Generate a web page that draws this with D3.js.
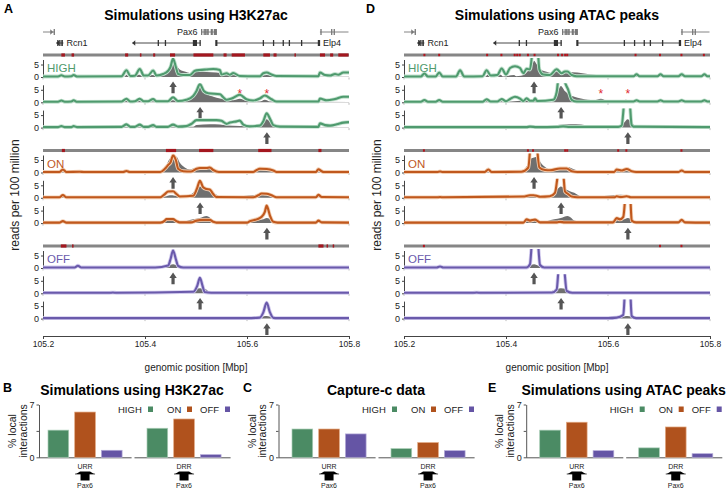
<!DOCTYPE html>
<html><head><meta charset="utf-8">
<script src="https://cdn.jsdelivr.net/npm/d3@7"></script>
<style>body{margin:0;background:#fff;} svg{display:block;font-family:"Liberation Sans",Arial,sans-serif;}</style>
</head><body><script>
// ---------------- DATA ----------------
const groups = ["HIGH", "ON", "OFF"];
const viewpoints = [105.455, 105.508, 105.639];
const xTicks = [105.2, 105.4, 105.6, 105.8];
const asteriskPos = [105.586, 105.639];

// gene models (Mbp)
const geneModels = [
  {row: 1, name: "", start: 105.200, end: 105.223, arrow: "right", exons: [[105.222, 105.223]]},
  {row: 1, name: "Pax6", start: 105.511, end: 105.541, arrow: "", exons: [[105.511, 105.512], [105.516, 105.517], [105.519, 105.521], [105.523, 105.525], [105.530, 105.533], [105.536, 105.541]]},
  {row: 1, name: "", start: 105.743, end: 105.799, arrow: "", exons: [[105.745, 105.746], [105.766, 105.767], [105.771, 105.772]]},
  {row: 2, name: "Rcn1", start: 105.226, end: 105.240, arrow: "left", exons: [[105.229, 105.230], [105.233, 105.234], [105.237, 105.239]]},
  {row: 2, name: "", start: 105.375, end: 105.509, arrow: "left", exons: [[105.426, 105.427], [105.440, 105.441], [105.495, 105.502], [105.508, 105.509]]},
  {row: 2, name: "Elp4", start: 105.539, end: 105.743, arrow: "", exons: [[105.539, 105.542], [105.632, 105.633], [105.652, 105.653], [105.671, 105.672], [105.683, 105.684], [105.707, 105.708], [105.740, 105.741], [105.742, 105.743]]}
];

// enhancer tracks (H3K27ac segments, ATAC peak points)
const enhA_HIGH = [[105.236,105.243],[105.256,105.261],[105.361,105.367],[105.390,105.393],[105.416,105.420],[105.449,105.459],[105.495,105.534],[105.554,105.560],[105.570,105.596],[105.632,105.645],[105.652,105.658],[105.693,105.695],[105.743,105.753],[105.763,105.769],[105.779,105.799]];
const enhA_ON = [[105.237,105.243],[105.441,105.461],[105.506,105.534],[105.622,105.648],[105.740,105.746]];
const enhA_OFF = [[105.235,105.246],[105.257,105.259],[105.740,105.750],[105.756,105.758],[105.768,105.770]];
const atac_HIGH = [105.240,105.269,105.363,105.391,105.417,105.422,105.427,105.443,105.456,105.502,105.510,105.516,105.520,105.654,105.702,105.744,105.788];
const atac_ON = [105.239,105.443,105.453,105.516,105.520,105.620,105.636,105.744];
const atac_OFF = [105.239,105.702,105.744];

// observed Capture-C (grey)
const obsHIGH1 = [[105.2,0.1],[105.233,0.1],[105.236,0.35],[105.240,0.1],[105.36,0.15],[105.3636,0.9],[105.368,0.15],[105.3898,0.9],[105.394,0.2],[105.416,0.8],[105.42,0.3],[105.429,0.5],[105.439,1.5],[105.4454,3],[105.452,5],[105.455,6.5],[105.4605,5],[105.468,3],[105.481,2],[105.491,1.5],[105.501,2.3],[105.5207,2.0],[105.540,1.8],[105.56,1.2],[105.586,0.6],[105.612,0.3],[105.632,0.6],[105.6385,0.8],[105.658,0.2],[105.8,0.1]];
const obsHIGH2 = [[105.2,0.1],[105.236,0.3],[105.24,0.1],[105.3636,0.5],[105.37,0.1],[105.39,0.5],[105.395,0.1],[105.416,0.4],[105.455,0.8],[105.47,0.4],[105.488,1.0],[105.4945,2.0],[105.501,4.0],[105.5076,6.5],[105.5154,4.5],[105.524,3.0],[105.534,2.2],[105.547,1.5],[105.573,0.8],[105.586,1.4],[105.599,0.5],[105.625,0.3],[105.635,1.0],[105.645,0.3],[105.8,0.1]];
const obsHIGH3 = [[105.2,0.1],[105.4945,0.3],[105.501,1.0],[105.527,1.3],[105.547,1.2],[105.56,0.8],[105.586,0.6],[105.625,0.9],[105.632,2.0],[105.6385,3.3],[105.648,1.5],[105.658,0.4],[105.67,0.1],[105.8,0.1]];
const obsON1 = [[105.2,0.1],[105.236,0.5],[105.242,0.1],[105.3636,0.3],[105.37,0.1],[105.43,0.3],[105.442,3],[105.4487,5.5],[105.455,6.0],[105.4618,6.3],[105.468,4.0],[105.478,2.0],[105.488,1.2],[105.501,2.0],[105.5207,2.2],[105.534,1.2],[105.547,0.5],[105.5665,0.5],[105.58,0.3],[105.625,1.2],[105.6385,1.3],[105.6516,0.5],[105.66,0.1],[105.74,0.4],[105.745,0.1],[105.8,0.1]];
const obsON2 = [[105.2,0.1],[105.236,0.5],[105.242,0.1],[105.44,0.5],[105.4487,1.0],[105.468,0.7],[105.491,1.5],[105.501,3.5],[105.5076,4.5],[105.514,3.8],[105.524,2.7],[105.5338,2.0],[105.547,0.5],[105.56,0.2],[105.625,1.2],[105.6385,1.0],[105.65,0.2],[105.8,0.1]];
const obsON3 = [[105.2,0.1],[105.236,0.4],[105.242,0.1],[105.435,0.3],[105.442,1.2],[105.455,1.0],[105.468,0.3],[105.4945,1.5],[105.5076,2.0],[105.5207,2.8],[105.527,2.2],[105.5338,1.0],[105.55,0.5],[105.573,0.8],[105.599,0.5],[105.612,1.0],[105.632,1.5],[105.6385,2.0],[105.645,1.5],[105.6516,0.3],[105.66,0.1],[105.8,0.1]];
const obsOFF1 = [[105.2,0.1],[105.269,0.3],[105.275,0.1],[105.42,0.2],[105.429,0.6],[105.4454,1.0],[105.455,1.5],[105.465,0.8],[105.48,0.3],[105.508,0.5],[105.5207,0.4],[105.535,0.1],[105.8,0.1]];
const obsOFF2 = [[105.2,0.1],[105.33,0.1],[105.337,0.5],[105.344,0.1],[105.45,0.1],[105.455,0.5],[105.46,0.1],[105.48,0.3],[105.491,1.0],[105.501,1.8],[105.5076,2.0],[105.517,1.8],[105.527,0.5],[105.54,0.1],[105.8,0.1]];
const obsOFF3 = [[105.2,0.1],[105.599,0.1],[105.612,0.4],[105.625,0.6],[105.6385,1.0],[105.6516,0.3],[105.66,0.1],[105.8,0.1]];

// simulations using H3K27ac
const simA_HIGH1 = [[105.2,0.2],[105.2295,0.2],[105.236,0.7],[105.2425,0.2],[105.2556,0.3],[105.260,0.8],[105.2668,0.2],[105.354,0.3],[105.3636,2.7],[105.3715,0.4],[105.38,0.5],[105.3898,3.2],[105.3976,0.6],[105.406,0.6],[105.416,2.6],[105.4225,0.6],[105.4356,1.2],[105.4454,2.5],[105.450,4],[105.455,7.4],[105.4605,4],[105.465,1.2],[105.475,0.8],[105.488,0.8],[105.498,2.5],[105.5076,2.8],[105.5207,3.0],[105.5338,3.2],[105.547,2.8],[105.550,1.0],[105.56,1.5],[105.5665,0.9],[105.573,1.6],[105.586,0.4],[105.625,0.3],[105.632,1.5],[105.6385,1.8],[105.648,1.0],[105.658,0.4],[105.740,0.3],[105.743,1.8],[105.753,0.8],[105.763,0.6],[105.7726,1.2],[105.779,0.9],[105.789,1.8],[105.8,1.8]];
const simA_HIGH2 = [[105.2,0.2],[105.2295,0.2],[105.236,0.7],[105.2425,0.2],[105.2556,0.3],[105.260,0.8],[105.2668,0.2],[105.354,0.3],[105.3636,1.4],[105.3715,0.3],[105.38,0.4],[105.3898,1.4],[105.3976,0.4],[105.406,0.4],[105.416,1.3],[105.4225,0.4],[105.445,0.4],[105.455,2.0],[105.465,0.5],[105.481,1.0],[105.4945,2.5],[105.501,4.5],[105.5076,7.3],[105.5154,4.5],[105.524,3.6],[105.547,3.2],[105.5534,2.0],[105.560,1.0],[105.5698,1.5],[105.586,3.0],[105.599,1.2],[105.612,0.7],[105.625,1.5],[105.635,2.7],[105.648,1.2],[105.658,0.3],[105.740,0.3],[105.743,1.5],[105.7563,0.8],[105.7726,1.3],[105.789,2.2],[105.8,2.2]];
const simA_HIGH3 = [[105.2,0.2],[105.2295,0.2],[105.236,0.6],[105.2425,0.2],[105.2556,0.2],[105.260,0.6],[105.2668,0.2],[105.354,0.3],[105.3636,1.3],[105.3715,0.3],[105.38,0.3],[105.3898,1.2],[105.3976,0.3],[105.406,0.3],[105.416,1.0],[105.4225,0.3],[105.445,0.3],[105.455,1.2],[105.465,0.4],[105.481,0.6],[105.491,1.5],[105.501,3.0],[105.5207,3.0],[105.540,3.0],[105.550,2.7],[105.560,1.5],[105.5665,2.0],[105.5796,2.5],[105.586,2.8],[105.5927,1.2],[105.605,0.5],[105.625,0.8],[105.632,2.5],[105.6385,5.7],[105.6463,3],[105.6516,1],[105.6647,0.4],[105.740,0.3],[105.743,1.7],[105.753,1.0],[105.763,0.8],[105.776,1.3],[105.789,2.0],[105.8,2.2]];
const simA_ON1 = [[105.2,0.2],[105.232,0.2],[105.239,1.2],[105.246,0.2],[105.272,0.3],[105.28,0.2],[105.357,0.2],[105.3636,0.6],[105.37,0.2],[105.43,0.2],[105.439,1.5],[105.4454,3.0],[105.450,4.0],[105.455,6.8],[105.4605,5],[105.465,1.5],[105.475,0.5],[105.49,0.4],[105.501,1.5],[105.5076,1.8],[105.5207,1.8],[105.527,2.0],[105.5338,1.0],[105.545,0.2],[105.612,0.2],[105.619,1.0],[105.625,1.5],[105.6385,1.4],[105.6516,0.8],[105.658,0.2],[105.735,0.2],[105.740,1.3],[105.7465,0.5],[105.75,0.2],[105.8,0.2]];
const simA_ON2 = [[105.2,0.2],[105.232,0.2],[105.239,1.1],[105.246,0.2],[105.43,0.2],[105.439,1.5],[105.4454,2.5],[105.455,2.6],[105.4618,1.5],[105.468,0.5],[105.4945,0.8],[105.5024,4],[105.5076,6.8],[105.514,4.2],[105.5207,3.5],[105.527,3.3],[105.5338,1.5],[105.540,0.3],[105.612,0.2],[105.622,1.0],[105.6287,1.7],[105.6385,1.6],[105.648,1.0],[105.658,0.2],[105.735,0.2],[105.740,1.2],[105.7465,0.3],[105.8,0.2]];
const simA_ON3 = [[105.2,0.2],[105.232,0.2],[105.239,0.8],[105.246,0.2],[105.43,0.2],[105.439,1.0],[105.442,1.6],[105.455,1.6],[105.4618,0.8],[105.468,0.3],[105.49,0.3],[105.501,1.0],[105.514,1.3],[105.527,1.3],[105.5338,0.5],[105.54,0.2],[105.6,0.2],[105.6058,0.8],[105.619,1.5],[105.6287,2.5],[105.635,4.5],[105.6385,7.0],[105.645,3],[105.6516,0.5],[105.66,0.2],[105.735,0.2],[105.740,1.0],[105.7465,0.3],[105.8,0.2]];
const simA_OFF1 = [[105.2,0.2],[105.262,0.2],[105.2685,0.9],[105.275,0.2],[105.42,0.2],[105.4454,1.0],[105.450,3.5],[105.455,7.0],[105.4605,3.5],[105.465,0.8],[105.475,0.2],[105.8,0.2]];
const simA_OFF2 = [[105.2,0.2],[105.33,0.2],[105.337,0.3],[105.344,0.2],[105.4945,0.6],[105.5024,3.0],[105.5076,6.2],[105.5128,3.0],[105.517,0.5],[105.53,0.2],[105.8,0.2]];
const simA_OFF3 = [[105.2,0.2],[105.599,0.2],[105.625,0.4],[105.632,2.5],[105.6385,6.4],[105.645,2.5],[105.6516,0.3],[105.66,0.2],[105.8,0.2]];

// simulations using ATAC peaks
const simD_HIGH1 = [[105.2,0.2],[105.233,0.2],[105.240,1.4],[105.247,0.2],[105.262,0.2],[105.269,1.8],[105.276,0.2],[105.302,0.2],[105.310,2.7],[105.318,0.2],[105.354,0.3],[105.362,2.7],[105.37,0.6],[105.383,0.8],[105.3915,3.4],[105.40,1.0],[105.408,3.6],[105.4176,4.3],[105.4275,3.6],[105.434,1.5],[105.4405,3.3],[105.447,3.0],[105.4536,12],[105.4614,12],[105.4654,3],[105.473,1.0],[105.486,0.8],[105.4993,3.1],[105.509,1.5],[105.5157,2.2],[105.5203,2.2],[105.5288,0.8],[105.5386,0.3],[105.65,0.3],[105.656,1.1],[105.662,0.3],[105.697,0.3],[105.703,1.1],[105.709,0.3],[105.738,0.3],[105.7444,1.1],[105.751,0.3],[105.783,0.3],[105.789,1.1],[105.795,0.3],[105.8,0.3]];
const simD_HIGH2 = [[105.2,0.2],[105.233,0.2],[105.240,0.9],[105.247,0.2],[105.262,0.2],[105.269,0.9],[105.276,0.2],[105.354,0.2],[105.362,1.2],[105.37,0.3],[105.383,0.3],[105.3915,1.3],[105.40,0.4],[105.408,1.3],[105.4176,2.2],[105.4275,1.5],[105.434,0.5],[105.4405,1.6],[105.447,0.6],[105.4536,0.6],[105.457,1.6],[105.4614,0.5],[105.4928,1.0],[105.4993,4],[105.5046,12],[105.511,12],[105.5157,8],[105.522,5],[105.5288,1],[105.5386,0.3],[105.65,0.3],[105.656,0.8],[105.662,0.3],[105.697,0.3],[105.703,0.8],[105.709,0.3],[105.738,0.3],[105.7444,0.8],[105.751,0.3],[105.783,0.3],[105.789,0.8],[105.795,0.3],[105.8,0.3]];
const simD_HIGH3 = [[105.2,0.2],[105.44,0.2],[105.447,0.4],[105.46,0.2],[105.5,0.3],[105.512,0.5],[105.525,0.3],[105.62,0.3],[105.6268,0.8],[105.6333,12],[105.6414,12],[105.6464,1],[105.6497,0.4],[105.8,0.2]];
const simD_ON1 = [[105.2,0.2],[105.265,0.2],[105.2706,0.4],[105.276,0.2],[105.358,0.2],[105.3654,1.2],[105.372,0.2],[105.43,0.3],[105.4438,2],[105.449,12],[105.459,12],[105.4654,2],[105.4765,1.0],[105.486,0.9],[105.506,1.6],[105.519,1.6],[105.5288,0.5],[105.54,0.2],[105.612,0.2],[105.617,1.2],[105.6268,0.8],[105.6366,1.4],[105.6464,0.5],[105.655,0.2],[105.738,0.2],[105.7444,0.8],[105.751,0.2],[105.8,0.2]];
const simD_ON2 = [[105.2,0.2],[105.265,0.2],[105.2706,0.3],[105.276,0.2],[105.434,0.5],[105.447,1.0],[105.4536,1.0],[105.46,0.8],[105.4667,0.4],[105.486,0.6],[105.496,2],[105.5046,12],[105.511,12],[105.5157,2.5],[105.522,1.5],[105.5288,0.5],[105.54,0.2],[105.612,0.2],[105.617,0.6],[105.625,0.3],[105.6366,0.6],[105.645,0.2],[105.8,0.2]];
const simD_ON3 = [[105.2,0.2],[105.434,0.2],[105.4405,1.5],[105.447,1.0],[105.457,1.4],[105.4667,0.3],[105.50,0.3],[105.506,0.5],[105.515,0.3],[105.61,0.3],[105.617,2.0],[105.6235,1.5],[105.630,2.5],[105.6353,12],[105.643,12],[105.6464,1],[105.655,0.3],[105.738,0.3],[105.7444,1.3],[105.751,0.3],[105.8,0.2]];
const simD_OFF1 = [[105.2,0.2],[105.264,0.2],[105.2706,0.6],[105.277,0.2],[105.44,0.2],[105.447,1.5],[105.452,12],[105.4614,12],[105.4667,1.2],[105.475,0.2],[105.8,0.2]];
const simD_OFF2 = [[105.2,0.2],[105.335,0.2],[105.3425,0.3],[105.35,0.2],[105.49,0.3],[105.4993,1.5],[105.5046,12],[105.5124,12],[105.519,1],[105.53,0.2],[105.8,0.2]];
const simD_OFF3 = [[105.2,0.2],[105.6,0.2],[105.617,0.4],[105.630,1.5],[105.634,12],[105.643,12],[105.6464,1],[105.655,0.2],[105.8,0.2]];

// bar charts: % local interactions (HIGH, ON, OFF)
const regions = ["URR", "DRR"];
const barsH3K27ac_URR = [3.6, 6.0, 0.93];
const barsH3K27ac_DRR = [3.85, 5.08, 0.35];
const barsCapture_URR = [3.75, 3.75, 3.1];
const barsCapture_DRR = [1.15, 1.95, 0.88];
const barsATAC_URR = [3.6, 4.65, 0.88];
const barsATAC_DRR = [1.25, 4.02, 0.48];
const barYTicks = [0, 3.5, 7];

// ---------------- DRAWING ----------------
const W = 726, H = 490;
const svg = d3.select("body").append("svg").attr("width", W).attr("height", H);
const COL = {HIGH: "#4f9a6e", ON: "#c0581d", OFF: "#6a5aab"};
const HALO = {HIGH: "#c3e2cf", ON: "#f3cfb3", OFF: "#d2cbee"};
const BAR = {HIGH: "#4b8b64", ON: "#b0521d", OFF: "#6555a5"};
const BARSTROKE = {HIGH: "#a9cdb6", ON: "#e2a983", OFF: "#b4abd8"};
const defs = svg.append("defs");
let clipId = 0;

function baseY(gi, t) { return 77 + gi * 95.5 + t * 25.3; }

function trackPanel(cfg) {
  const x = d3.scaleLinear().domain([105.2, 105.8]).range([cfg.x0, cfg.x1]);
  const g = svg.append("g");
  g.append("text").attr("x", cfg.lx).attr("y", 13).attr("font-weight", "bold").attr("font-size", 12.5).text(cfg.label);
  g.append("text").attr("x", cfg.tx).attr("y", 20).attr("text-anchor", "middle").attr("font-weight", "bold").attr("font-size", 14).text(cfg.title);

  // genes
  geneModels.forEach(gm => {
    const yy = gm.row === 1 ? 32 : 43;
    const col = gm.row === 1 ? "#777" : "#333";
    g.append("line").attr("x1", x(gm.start)).attr("x2", x(gm.end)).attr("y1", yy).attr("y2", yy).attr("stroke", col).attr("stroke-width", 0.9);
    gm.exons.forEach(e => {
      g.append("rect").attr("x", x(e[0]) - 0.6).attr("width", Math.max(1.3, x(e[1]) - x(e[0]) + 0.6)).attr("y", yy - 3).attr("height", 6).attr("fill", col);
    });
    if (gm.arrow === "left") {
      const ax = x(gm.start);
      g.append("path").attr("d", `M${ax + 3},${yy - 2.8}L${ax},${yy}L${ax + 3},${yy + 2.8}Z`).attr("fill", col);
    } else if (gm.arrow === "right") {
      const ax = x(gm.end) - 1.5;
      g.append("path").attr("d", `M${ax - 3},${yy - 2.8}L${ax},${yy}L${ax - 3},${yy + 2.8}Z`).attr("fill", col);
    }
    if (gm.name === "Pax6") {
      g.append("text").attr("x", x(gm.start) - 4).attr("y", yy + 3).attr("text-anchor", "end").attr("font-size", 9).attr("fill", "#222").text(gm.name);
    } else if (gm.name) {
      g.append("text").attr("x", x(gm.end) + 3).attr("y", yy + 3.2).attr("font-size", 9).attr("fill", "#222").text(gm.name);
    }
  });

  const area = y => d3.area().x(d => x(d[0])).y0(y(0)).y1(d => y(d[1])).curve(d3.curveMonotoneX);
  const line = y => d3.line().x(d => x(d[0])).y(d => y(d[1])).curve(d3.curveMonotoneX);

  groups.forEach((grp, gi) => {
    const ye = baseY(gi, 0) - 22;
    g.append("line").attr("x1", cfg.x0).attr("x2", cfg.x1).attr("y1", ye).attr("y2", ye).attr("stroke", "#868686").attr("stroke-width", 2.8);
    if (cfg.enhType === "seg") {
      cfg.enh[gi].forEach(s => g.append("rect").attr("x", x(s[0])).attr("width", Math.max(1.5, x(s[1]) - x(s[0]))).attr("y", ye - 1.6).attr("height", 3.2).attr("fill", "#a3171f"));
    } else {
      cfg.enh[gi].forEach(p => g.append("rect").attr("x", x(p) - 1).attr("width", 2).attr("y", ye - 1.2).attr("height", 2.4).attr("fill", "#b3151e"));
    }
    for (let t = 0; t < 3; t++) {
      const y0 = baseY(gi, t);
      const y = d3.scaleLinear().domain([-0.2, 7]).range([y0 + 0.5, y0 - 17.5]);
      const id = "clip" + (clipId++);
      defs.append("clipPath").attr("id", id).append("rect").attr("x", cfg.x0).attr("width", cfg.x1 - cfg.x0 + 3).attr("y", y(7.6)).attr("height", y(-1.5) - y(7.6));
      // axis
      const ax = g.append("g").attr("transform", `translate(${cfg.x0},0)`).call(d3.axisLeft(y).tickValues([0, 5]).tickSize(2).tickSizeOuter(0).tickPadding(2));
      ax.select(".domain").attr("stroke", "#444");
      ax.selectAll(".tick line").attr("stroke", "#444");
      ax.selectAll("text").attr("font-size", 9).attr("fill", "#222").attr("font-family", "Liberation Sans, Arial, sans-serif");
      // small x ticks
      xTicks.forEach(v => g.append("line").attr("x1", x(v)).attr("x2", x(v)).attr("y1", y0 + 0.5).attr("y2", y0 + 2.5).attr("stroke", "#aaa").attr("stroke-width", 0.8));
      const obs = cfg.obs[gi][t], sim = cfg.sims[gi][t];
      const cg = g.append("g").attr("clip-path", `url(#${id})`);
      cg.append("path").attr("d", area(y)(obs)).attr("fill", "#6f6f6f");
      cg.append("path").attr("d", line(y)(sim)).attr("fill", "none").attr("stroke", HALO[grp]).attr("stroke-width", 3.8).attr("stroke-linejoin", "round");
      cg.append("path").attr("d", line(y)(sim)).attr("fill", "none").attr("stroke", COL[grp]).attr("stroke-width", 2.1).attr("stroke-linejoin", "round");
      // viewpoint arrow
      const vx = x(viewpoints[t]);
      g.append("path").attr("d", `M${vx},${y0 + 4.6}L${vx + 3.7},${y0 + 10}L${vx + 1.6},${y0 + 10}L${vx + 1.6},${y0 + 16.3}L${vx - 1.6},${y0 + 16.3}L${vx - 1.6},${y0 + 10}L${vx - 3.7},${y0 + 10}Z`).attr("fill", "#555");
      if (t === 0) {
        g.append("text").attr("x", cfg.x0 + 4).attr("y", y0 - 5).attr("font-size", 11.5).attr("fill", COL[grp]).text(grp);
      }
      if (gi === 0 && t === 1) {
        asteriskPos.forEach(p => g.append("text").attr("x", x(p)).attr("y", y0 - 4.5).attr("text-anchor", "middle").attr("font-size", 12).attr("fill", "#e0282e").text("*"));
      }
    }
  });
  // bottom axis
  const bx = g.append("g").attr("transform", "translate(0,336)").call(d3.axisBottom(x).tickValues(xTicks).tickFormat(d3.format(".1f")).tickSize(3).tickSizeOuter(0).tickPadding(2));
  bx.select(".domain").attr("stroke", "#444");
  bx.selectAll(".tick line").attr("stroke", "#444");
  bx.selectAll("text").attr("font-size", 8.5).attr("fill", "#222").attr("font-family", "Liberation Sans, Arial, sans-serif");
  g.append("text").attr("x", (cfg.x0 + cfg.x1) / 2).attr("y", 371).attr("text-anchor", "middle").attr("font-size", 10).attr("fill", "#222").text("genomic position [Mbp]");
  g.append("text").attr("transform", `translate(${cfg.ylx},195) rotate(-90)`).attr("text-anchor", "middle").attr("font-size", 12).attr("fill", "#222").text("reads per 100 million");
}

trackPanel({x0: 43, x1: 349, lx: 4, tx: 196, ylx: 19, label: "A", title: "Simulations using H3K27ac",
  enhType: "seg", enh: [enhA_HIGH, enhA_ON, enhA_OFF],
  obs: [[obsHIGH1, obsHIGH2, obsHIGH3], [obsON1, obsON2, obsON3], [obsOFF1, obsOFF2, obsOFF3]],
  sims: [[simA_HIGH1, simA_HIGH2, simA_HIGH3], [simA_ON1, simA_ON2, simA_ON3], [simA_OFF1, simA_OFF2, simA_OFF3]]});
trackPanel({x0: 404, x1: 710, lx: 366, tx: 557, ylx: 381, label: "D", title: "Simulations using ATAC peaks",
  enhType: "pt", enh: [atac_HIGH, atac_ON, atac_OFF],
  obs: [[obsHIGH1, obsHIGH2, obsHIGH3], [obsON1, obsON2, obsON3], [obsOFF1, obsOFF2, obsOFF3]],
  sims: [[simD_HIGH1, simD_HIGH2, simD_HIGH3], [simD_ON1, simD_ON2, simD_ON3], [simD_OFF1, simD_OFF2, simD_OFF3]]});

function barPanel(cfg) {
  const bx0 = cfg.bx0;
  const g = svg.append("g");
  const x0 = d3.scaleBand().domain(regions).range([bx0, bx0 + 173.1]).paddingInner(0.2515).paddingOuter(0);
  const x1 = d3.scaleBand().domain(groups).range([0, x0.bandwidth()]).paddingInner(0.2247).paddingOuter(0);
  const y = d3.scaleLinear().domain([0, 7]).range([457.3, 404.5]);
  const yaxX = bx0 - cfg.axOff;
  g.append("text").attr("x", cfg.lx).attr("y", 392).attr("font-weight", "bold").attr("font-size", 12.5).text(cfg.label);
  g.append("text").attr("x", bx0 + 84).attr("y", 395).attr("text-anchor", "middle").attr("font-weight", "bold").attr("font-size", 14).text(cfg.title);
  const ax = g.append("g").attr("transform", `translate(${yaxX},0)`).call(d3.axisLeft(y).tickValues(barYTicks).tickFormat(d => d === 3.5 ? "" : d).tickSize(2.5).tickSizeOuter(0).tickPadding(2));
  ax.select(".domain").attr("stroke", "#555");
  ax.selectAll(".tick line").attr("stroke", "#555");
  ax.selectAll("text").attr("font-size", 9).attr("fill", "#222").attr("font-family", "Liberation Sans, Arial, sans-serif");
  const yt = g.append("text").attr("transform", `translate(${yaxX - 23},431) rotate(-90)`).attr("text-anchor", "middle").attr("font-size", 10.5).attr("fill", "#222");
  yt.append("tspan").attr("x", 0).attr("dy", 0).text("% local");
  yt.append("tspan").attr("x", 0).attr("dy", 10.5).text("interactions");
  const vals = {URR: cfg.urr, DRR: cfg.drr};
  regions.forEach((r, ri) => {
    const left = ri === 0 ? yaxX : x0(r) - 12.5;
    g.append("line").attr("x1", left).attr("x2", x0(r) + x0.bandwidth() + 9.5).attr("y1", 457.8).attr("y2", 457.8).attr("stroke", "#555").attr("stroke-width", 1);
    groups.forEach((grp, i) => {
      const v = vals[r][i];
      g.append("rect").attr("x", x0(r) + x1(grp)).attr("width", x1.bandwidth()).attr("y", y(v)).attr("height", y(0) - y(v))
        .attr("fill", BAR[grp]).attr("stroke", BARSTROKE[grp]).attr("stroke-width", 0.7);
    });
    const cx = x0(r) + x1("ON") + x1.bandwidth() / 2;
    g.append("text").attr("x", cx).attr("y", 468.5).attr("text-anchor", "middle").attr("font-size", 7).attr("fill", "#222").text(r);
    g.append("line").attr("x1", cx - 10).attr("x2", cx + 10).attr("y1", 474).attr("y2", 474).attr("stroke", "#222").attr("stroke-width", 0.8);
    g.append("path").attr("d", `M${cx - 9},${474}L${cx - 5},${471.5}L${cx + 5},${471.5}L${cx + 9},${474}L${cx + 4.5},${474}L${cx + 4.5},${480.5}L${cx - 4.5},${480.5}L${cx - 4.5},${474}Z`).attr("fill", "#000");
    g.append("text").attr("x", cx).attr("y", 488).attr("text-anchor", "middle").attr("font-size", 7).attr("fill", "#222").text("Pax6");
  });
  // legend
  const leg = [[70, 100], [119, 139], [152, 177]];
  groups.forEach((grp, i) => {
    g.append("text").attr("x", bx0 + leg[i][0]).attr("y", 412.5).attr("font-size", 9.5).attr("fill", "#222").text(grp);
    g.append("rect").attr("x", bx0 + leg[i][1]).attr("y", 406.5).attr("width", 5).attr("height", 5.5).attr("fill", BAR[grp]);
  });
}

barPanel({bx0: 48, axOff: 9, lx: 3, label: "B", title: "Simulations using H3K27ac", urr: barsH3K27ac_URR, drr: barsH3K27ac_DRR});
barPanel({bx0: 292, axOff: 13.5, lx: 243, label: "C", title: "Capture-c data", urr: barsCapture_URR, drr: barsCapture_DRR});
barPanel({bx0: 539.7, axOff: 13.5, lx: 488, label: "E", title: "Simulations using ATAC peaks", urr: barsATAC_URR, drr: barsATAC_DRR});
</script></body></html>
